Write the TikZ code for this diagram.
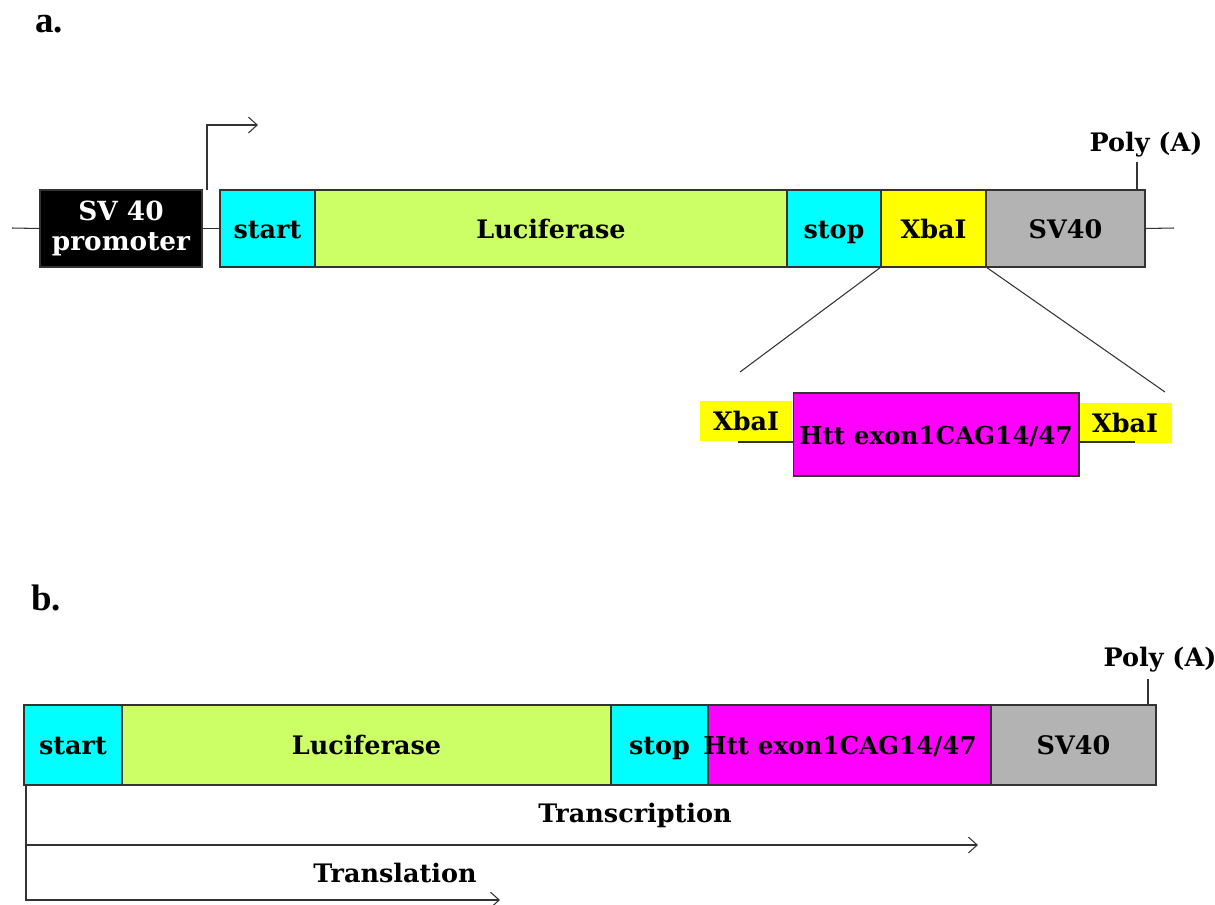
\documentclass[tikz,border=0pt]{standalone}
\usepackage{fontspec}
\setmainfont{DejaVu Serif}
\newfontfamily\figletter{Liberation Serif}
\usetikzlibrary{arrows.meta}

\definecolor{startcyan}{RGB}{0,255,255}
\definecolor{lucgreen}{RGB}{204,255,102}
\definecolor{xbayellow}{RGB}{255,255,0}
\definecolor{httmagenta}{RGB}{255,0,255}
\definecolor{svgray}{RGB}{179,179,179}

\begin{document}
\begin{tikzpicture}[x=0.02cm,y=-0.02cm,
    box/.style={draw=black!80,line width=0.6pt,inner sep=0pt,outer sep=0pt,
                text height=13pt,text depth=1.8pt,font=\fontsize{14.5}{17}\selectfont\bfseries},
    rowa/.style={box,minimum height=1.54cm},
    rowb/.style={box,minimum height=1.6cm},
    tag/.style={inner sep=1pt,font=\fontsize{14.5}{17}\selectfont\bfseries},
    htttext/.style={font=\fontsize{14}{17}\selectfont\bfseries},
    panel/.style={font=\figletter\fontsize{21}{24}\selectfont\bfseries},
    wire/.style={draw=black!80,line width=0.6pt},
    arr/.style={wire,-{Straight Barb[length=5pt,width=9pt]}}]
    \useasboundingbox (0,0) rectangle (1215,904);

    % Panel labels
    \node[panel] (la) at (49,24) {a.};
    \node[panel] (lb) at (46,598) {b.};

    % Place the construct of panel a
    \node[rowa,fill=black,text=white,align=center,minimum width=3.24cm,text height=,text depth=,
          font=\fontsize{15}{17.5}\selectfont\bfseries] (prom) at (121,228.5) {SV 40\\promoter};
    \node[rowa,fill=startcyan,minimum width=1.9cm] (startA) at (267.5,228.5) {start};
    \node[rowa,fill=lucgreen,minimum width=9.44cm] (lucA) at (551,228.5) {Luciferase};
    \node[rowa,fill=startcyan,minimum width=1.88cm] (stopA) at (834,228.5) {stop};
    \node[rowa,fill=xbayellow,minimum width=2.1cm] (xbaA) at (933.5,228.5) {XbaI};
    \node[rowa,fill=svgray,minimum width=3.18cm] (svA) at (1065.5,228.5) {SV40};
    \node[tag] (polyA) at (1146,145) {Poly (A)};

    % The insert
    \node[box,draw=none,fill=xbayellow,minimum width=1.84cm,minimum height=0.8cm] (xbaL) at (746,421) {XbaI};
    \node[box,draw=none,fill=xbayellow,minimum width=1.88cm,minimum height=0.8cm] (xbaR) at (1125,423) {XbaI};
    \node[box,htttext,fill=httmagenta,minimum width=5.72cm,minimum height=1.66cm] (htt) at (936,434.5) {Htt exon1CAG14/47};

    % Free ends
    \coordinate (bbL) at (12,228);
    \coordinate (bbR) at (1174,228);
    \coordinate (tss) at (207,190);
    \coordinate (tssEnd) at (258,125);
    \coordinate (paA) at (1137,190);
    \coordinate (zoomL) at (740,372);
    \coordinate (zoomR) at (1165,392);
    \coordinate (insL) at (738,442);
    \coordinate (insR) at (1135,442);

    % The lines!
    \draw[wire] (bbL) -- (prom.west);
    \draw[wire] (prom.east) -- (startA.west);
    \draw[wire] (svA.east) -- (bbR);
    \draw[arr] (tss) |- (tssEnd);
    \draw[wire] (paA) -- ++(0,-28);
    \draw[wire] (xbaA.south west) -- (zoomL);
    \draw[wire] (xbaA.south east) -- (zoomR);
    \draw[wire] (insL) -- (htt.west |- insL);
    \draw[wire] (htt.east |- insR) -- (insR);

    % Place the construct of panel b
    \node[rowb,fill=startcyan,minimum width=1.96cm] (startB) at (73,745) {start};
    \node[rowb,fill=lucgreen,minimum width=9.78cm] (lucB) at (366.5,745) {Luciferase};
    \node[rowb,fill=startcyan,minimum width=1.94cm] (stopB) at (659.5,745) {stop};
    \node[rowb,fill=httmagenta,minimum width=5.66cm] (httB) at (849.5,745) {};
    \node[tag,htttext,text height=13pt,text depth=1.8pt] (httBtext) at (840,745) {Htt exon1CAG14/47};
    \node[rowb,fill=svgray,minimum width=3.3cm] (svB) at (1073.5,745) {SV40};
    \node[tag] (polyB) at (1160,660) {Poly (A)};
    \node[tag] (tscr) at (635,815) {Transcription};
    \node[tag] (tsl) at (395,873) {Translation};

    \coordinate (paB) at (1148,705);
    \coordinate (tsStart) at (26,785);
    \coordinate (tscrEnd) at (978,845);
    \coordinate (tslEnd) at (500,900);

    \draw[wire] (paB) -- ++(0,-26);
    \draw[arr] (tsStart) |- (tslEnd);
    \draw[arr] (tsStart |- tscrEnd) -- (tscrEnd);
\end{tikzpicture}
\end{document}
